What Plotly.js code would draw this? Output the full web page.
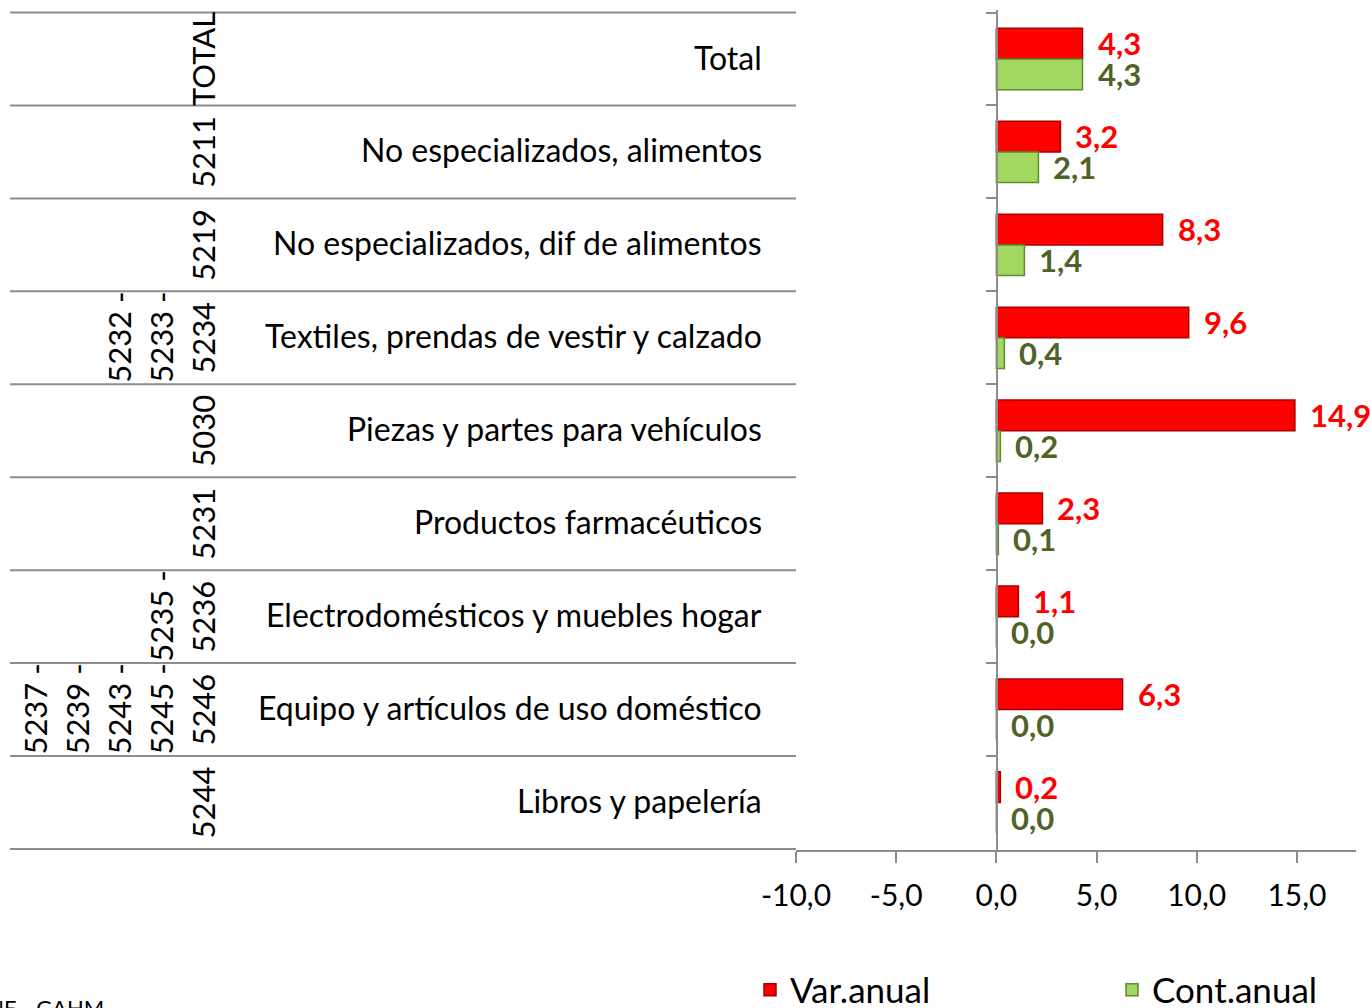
<!DOCTYPE html>
<html>
<head>
<meta charset="utf-8">
<script src="https://cdn.plot.ly/plotly-3.0.1.min.js"></script>
<style>html,body{margin:0;padding:0;background:#fff;overflow:hidden}#chart{width:1371px;height:1008px}</style>
</head>
<body>
<div id="chart"></div>
<script>
// ---- data ----
const categories = [
  'Total',
  'No especializados, alimentos',
  'No especializados, dif de alimentos',
  'Textiles, prendas de vestir y calzado',
  'Piezas y partes para vehículos',
  'Productos farmacéuticos',
  'Electrodomésticos y muebles hogar',
  'Equipo y artículos de uso doméstico',
  'Libros y papelería'
];
const codes = [
  ['TOTAL'],
  ['5211'],
  ['5219'],
  ['5232 -', '5233 -', '5234'],
  ['5030'],
  ['5231'],
  ['5235 -', '5236'],
  ['5237 -', '5239 -', '5243 -', '5245 -', '5246'],
  ['5244']
];
const varAnual  = [4.3, 3.2, 8.3, 9.6, 14.9, 2.3, 1.1, 6.3, 0.2];
const contAnual = [4.3, 2.1, 1.4, 0.4, 0.2, 0.1, 0.0, 0.0, 0.0];
const seriesNames = ['Var.anual', 'Cont.anual'];
const xTicks = [-10, -5, 0, 5, 10, 15];
const sourceText = 'DANE - GAHM';

// ---- layout helpers ----
const W = 1371, H = 1008;
const plotTop = 10, plotBottom = 850;
const px = v => v / W;                                   // pixel x -> paper x (margins 0)
const py = v => (plotBottom - v) / (plotBottom - plotTop); // pixel y -> paper y
const FONT = 'Lato, "Open Sans", sans-serif';
const gridCol = '#8c8c8c';

const fmt = v => v.toFixed(1).replace('.', ',');

const traces = [
  {
    type: 'bar', orientation: 'h', name: seriesNames[0],
    x: varAnual, y: categories,
    marker: {color: '#FF0000', line: {color: '#A80000', width: 1.5}},
    hoverinfo: 'x+y'
  },
  {
    type: 'bar', orientation: 'h', name: seriesNames[1],
    x: contAnual, y: categories,
    marker: {color: '#A2D762', line: {color: '#5F8A2E', width: 1.5}},
    hoverinfo: 'x+y'
  }
];

const annotations = [];
categories.forEach((c, i) => {
  annotations.push({
    x: varAnual[i], y: c, xref: 'x', yref: 'y', xanchor: 'left', yanchor: 'middle',
    xshift: 13, yshift: 16, showarrow: false, text: fmt(varAnual[i]),
    font: {family: FONT, size: 31, color: '#FF0000', weight: 'bold'}
  });
  annotations.push({
    x: contAnual[i], y: c, xref: 'x', yref: 'y', xanchor: 'left', yanchor: 'middle',
    xshift: 13, yshift: -15, showarrow: false, text: fmt(contAnual[i]),
    font: {family: FONT, size: 31, color: '#4F6228', weight: 'bold'}
  });
  annotations.push({
    x: px(764), y: c, xref: 'paper', yref: 'y', xanchor: 'right', yanchor: 'middle',
    yshift: 2, showarrow: false, text: c,
    font: {family: FONT, size: 32, color: '#000'}
  });
  const lines = codes[i];
  lines.forEach((t, j) => {
    const cx = 203 - (lines.length - 1 - j) * 42;
    annotations.push({
      x: px(cx), y: c, xref: 'paper', yref: 'y', xanchor: 'center', yanchor: 'middle',
      textangle: -90, showarrow: false, text: t,
      font: {family: FONT, size: 31, color: '#000'}
    });
  });
});
annotations.push({
  x: px(106), y: py(992), xref: 'paper', yref: 'paper', xanchor: 'right', yanchor: 'top',
  showarrow: false, text: sourceText, font: {family: FONT, size: 22, color: '#000'}
});

const shapes = [];
for (let k = 0; k <= categories.length; k++) {
  shapes.push({
    type: 'line', xref: 'paper', yref: 'y',
    x0: px(10), x1: px(796), y0: k - 0.5, y1: k - 0.5,
    line: {color: gridCol, width: 2}
  });
}

const layout = {
  width: W, height: H,
  margin: {l: 0, r: 0, t: plotTop, b: H - plotBottom, pad: 0, autoexpand: false},
  paper_bgcolor: '#fff', plot_bgcolor: '#fff',
  separators: ',.',
  barmode: 'group', bargap: 0.34, bargroupgap: 0,
  showlegend: true,
  legend: {
    orientation: 'h', x: px(750), y: py(990), xanchor: 'left', yanchor: 'middle',
    font: {family: FONT, size: 35, color: '#000'},
    entrywidth: 317, entrywidthmode: 'pixels', traceorder: 'normal',
    bgcolor: 'rgba(0,0,0,0)'
  },
  xaxis: {
    domain: [px(796), px(1356)],
    range: [-10, 17.95],
    tickmode: 'array', tickvals: xTicks, ticktext: xTicks.map(fmt),
    ticks: 'outside', ticklen: 11, tickwidth: 2, tickcolor: gridCol,
    showline: true, linecolor: gridCol, linewidth: 2,
    showgrid: false, zeroline: false,
    tickfont: {family: FONT, size: 30, color: '#000'},
    ticklabelstandoff: 7,
    fixedrange: true
  },
  yaxis: {
    type: 'category', autorange: 'reversed',
    anchor: 'free', position: px(997),
    showline: true, linecolor: gridCol, linewidth: 2,
    ticks: 'outside', ticklen: 10, tickwidth: 2, tickcolor: gridCol,
    tickson: 'boundaries',
    showticklabels: false, showgrid: false, zeroline: false,
    fixedrange: true
  },
  annotations: annotations,
  shapes: shapes
};

Plotly.newPlot('chart', traces, layout, {displayModeBar: false, staticPlot: true});
</script>
</body>
</html>
